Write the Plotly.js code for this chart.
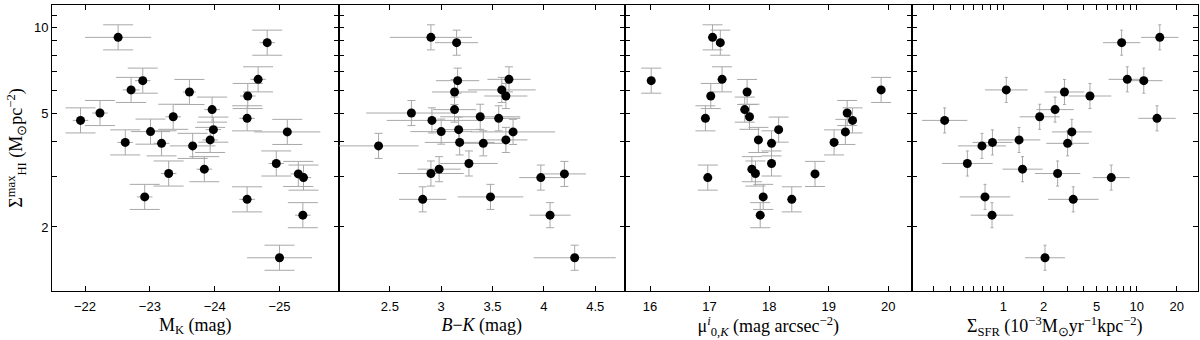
<!DOCTYPE html>
<html>
<head>
<meta charset="utf-8">
<script src="https://cdn.plot.ly/plotly-3.0.1.min.js"></script>
<style>
  html, body { margin: 0; padding: 0; background: #fff; }
  #plot { width: 1200px; height: 340px; }
</style>
</head>
<body>
<div id="plot"></div>
<script>
// peak HI surface density, one entry per galaxy (shared by all panels)
var hiMax = [9.25, 8.86, 6.59, 6.52, 6.05, 5.95, 5.76, 5.16, 5.02, 4.87, 4.81, 4.73, 4.39, 4.32,
             4.31, 4.04, 3.96, 3.93, 3.85, 3.34, 3.19, 3.08, 3.07, 2.98, 2.55, 2.50, 2.20, 1.56];
var hiErrDex = 0.044;

// panel 1: K-band absolute magnitude
var mK = [-22.51, -24.81, -24.67, -22.89, -22.71, -23.61, -24.51, -23.96, -22.23, -23.36, -24.50, -21.93, -23.98, -23.01,
          -25.12, -23.93, -22.62, -23.18, -23.66, -24.95, -23.84, -23.29, -25.29, -25.37, -22.92, -24.50, -25.36, -25.00];
var mKErr = [0.51, 0.12, 0.12, 0.12, 0.13, 0.10, 0.12, 0.12, 0.12, 0.12, 0.12, 0.12, 0.12, 0.30,
             0.51, 0.12, 0.12, 0.12, 0.35, 0.12, 0.12, 0.12, 0.12, 0.12, 0.12, 0.12, 0.12, 0.50];

// panel 2: B-K colour
var bMinusK = [2.90, 3.15, 3.66, 3.16, 3.59, 3.13, 3.63, 3.13, 2.71, 3.38, 3.56, 2.91, 3.17, 3.00,
               3.70, 3.63, 3.18, 3.41, 2.39, 3.27, 2.98, 2.90, 4.20, 3.97, 3.48, 2.82, 4.06, 4.30];
var bkErr = [0.40, 0.21, 0.21, 0.21, 0.33, 0.22, 0.21, 0.21, 0.44, 0.39, 0.21, 0.44, 0.24, 0.30,
             0.41, 0.21, 0.34, 0.19, 0.39, 0.28, 0.21, 0.32, 0.21, 0.21, 0.32, 0.23, 0.20, 0.40];

// panel 3: central K-band surface brightness (null = no measurement)
var mu0K = [17.05, 17.18, 17.21, 16.02, 19.88, 17.63, 17.02, 17.59, 19.31, 17.67, 16.93, 19.40, 18.16, null,
            19.28, 17.82, 19.09, 18.04, null, 18.04, 17.71, 17.77, 18.77, 16.97, 17.90, 18.38, 17.85, null];
var muErr = [0.07, 0.07, 0.07, 0.07, 0.07, 0.07, 0.07, 0.07, 0.07, 0.07, 0.07, 0.07, 0.07, null,
             0.07, 0.07, 0.07, 0.07, null, 0.07, 0.07, 0.07, 0.07, 0.07, 0.07, 0.07, 0.07, null];

// panel 4: SFR surface density, 1e-3 Msun/yr/kpc^2
var sfr = [14.9, 7.71, 8.50, 11.3, 1.05, 2.87, 4.46, 2.44, null, 1.87, 14.2, 0.362, null, null,
           3.26, 1.31, 0.827, 3.03, 0.690, 0.536, 1.39, 2.55, null, 6.44, 0.727, 3.34, 0.821, 2.05];
var sfrErrDex = [0.14, 0.14, 0.14, 0.14, 0.16, 0.15, 0.16, 0.14, null, 0.15, 0.14, 0.17, null, null,
                 0.15, 0.16, 0.15, 0.16, 0.18, 0.19, 0.15, 0.17, null, 0.14, 0.19, 0.19, 0.16, 0.15];

var yTickVals = [2, 5, 10];
var yMinorVals = [3, 4, 6, 7, 8, 9, 11];
var sfrTickVals = [1, 2, 5, 10, 20];
var sfrMinorVals = [0.3, 0.4, 0.5, 0.6, 0.7, 0.8, 0.9, 3, 4, 6, 7, 8, 9];

// log-symmetric error lengths for the log axes
function upErr(v, d) { return v.map(function (x, i) { return x == null ? null : x * (Math.pow(10, d[i]) - 1); }); }
function dnErr(v, d) { return v.map(function (x, i) { return x == null ? null : x * (1 - Math.pow(10, -d[i])); }); }
var hiDex = hiMax.map(function () { return hiErrDex; });

var errCol = '#a8a8a8';
function yErr(w) {
  return {type: 'data', symmetric: false, array: upErr(hiMax, hiDex), arrayminus: dnErr(hiMax, hiDex),
          color: errCol, thickness: 1, width: w};
}
function trace(x, xerr, ax, capw) {
  return {
    type: 'scatter', mode: 'markers', x: x, y: hiMax,
    xaxis: 'x' + ax, yaxis: 'y' + ax,
    marker: {color: '#000', size: 9},
    error_x: xerr,
    error_y: yErr(capw),
    hoverinfo: 'skip', showlegend: false
  };
}

var data = [
  trace(mK, {type: 'data', array: mKErr, color: errCol, thickness: 1, width: 0}, '', 15),
  trace(bMinusK, {type: 'data', array: bkErr, color: errCol, thickness: 1, width: 0}, '2', 4),
  trace(mu0K, {type: 'data', array: muErr, color: errCol, thickness: 1, width: 0}, '3', 10),
  trace(sfr, {type: 'data', symmetric: false, array: upErr(sfr, sfrErrDex), arrayminus: dnErr(sfr, sfrErrDex),
              color: errCol, thickness: 1, width: 0}, '4', 1.5)
];

var tickFont = {family: 'Liberation Sans, Arial, sans-serif', size: 13, color: '#000'};
var titleFont = {family: 'Liberation Serif, Times New Roman, serif', size: 18, color: '#000'};

function xAx(dom, anchor, extra) {
  var a = {domain: dom, anchor: anchor, showline: true, linecolor: '#000', linewidth: 1, mirror: 'ticks',
           ticks: 'inside', ticklen: 5, tickcolor: '#000', showgrid: false, zeroline: false,
           ticklabelstandoff: 3, tickfont: tickFont};
  for (var k in extra) a[k] = extra[k];
  return a;
}
function yAx(anchor, labels) {
  return {domain: [0, 1], anchor: anchor, type: 'log', range: [0.0765, 1.0796],
          tickmode: 'array', tickvals: yTickVals, showticklabels: labels,
          minor: {tickmode: 'array', tickvals: yMinorVals, ticks: 'inside', ticklen: 5, tickcolor: '#000', showgrid: false},
          showline: true, linecolor: '#000', linewidth: 1, mirror: 'ticks',
          ticks: 'inside', ticklen: 5, tickcolor: '#000', showgrid: false, zeroline: false,
          tickfont: tickFont};
}

var y1 = yAx('x', true);
y1.title = {text: 'Σ<sup>max</sup><sub>HI</sub> (M<sub>⊙</sub>pc<sup>−2</sup>)', font: titleFont, standoff: 6};

var layout = {
  width: 1200, height: 340,
  margin: {l: 52, r: 2, t: 5, b: 49},
  paper_bgcolor: '#fff', plot_bgcolor: '#fff',
  xaxis: xAx([0, 0.25], 'y', {range: [-21.49, -25.91], tickmode: 'array', tickvals: [-22, -23, -24, -25],
              title: {text: 'M<sub>K</sub> (mag)', font: titleFont, standoff: 5}}),
  xaxis2: xAx([0.25, 0.5], 'y2', {range: [2.0, 4.79], tickmode: 'array', tickvals: [2.5, 3, 3.5, 4, 4.5],
               title: {text: '<i>B</i>−<i>K</i> (mag)', font: titleFont, standoff: 5}}),
  xaxis3: xAx([0.5, 0.75], 'y3', {range: [15.58, 20.39], tickmode: 'array', tickvals: [16, 17, 18, 19, 20],
               title: {text: 'μ<sup><i>i</i></sup><sub>0,<i>K</i></sub> (mag arcsec<sup>−2</sup>)', font: titleFont, standoff: 5}}),
  xaxis4: xAx([0.75, 1], 'y4', {type: 'log', range: [-0.69, 1.46], tickmode: 'array', tickvals: sfrTickVals,
               ticktext: ['1', '2', '5', '10', '20'],
               minor: {tickmode: 'array', tickvals: sfrMinorVals, ticks: 'inside', ticklen: 5, tickcolor: '#000', showgrid: false},
               title: {text: 'Σ<sub>SFR</sub> (10<sup>−3</sup>M<sub>⊙</sub>yr<sup>−1</sup>kpc<sup>−2</sup>)', font: titleFont, standoff: 5}}),
  yaxis: y1,
  yaxis2: yAx('x2', false),
  yaxis3: yAx('x3', false),
  yaxis4: yAx('x4', false)
};

Plotly.newPlot('plot', data, layout, {staticPlot: true});
</script>
</body>
</html>
